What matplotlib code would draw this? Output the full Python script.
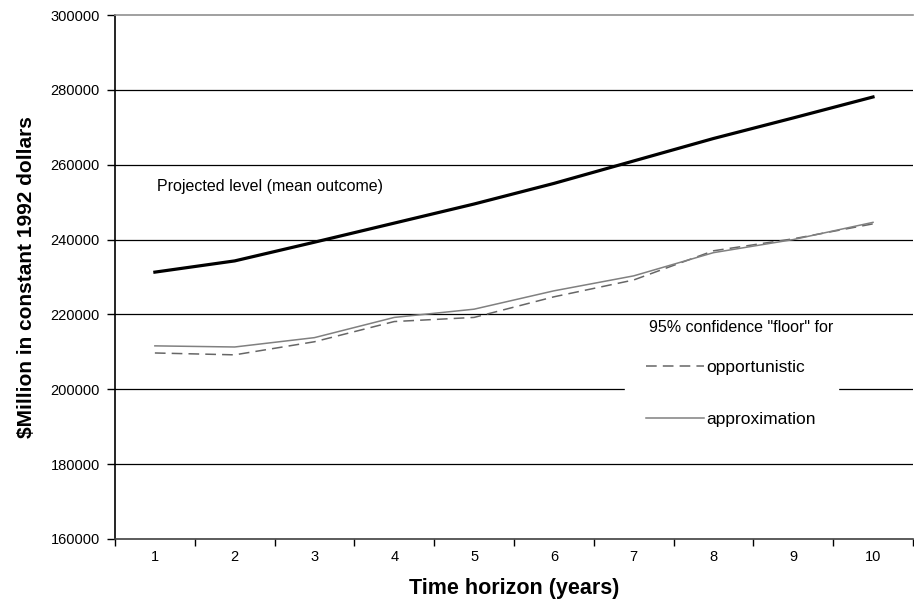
import matplotlib
matplotlib.use("Agg")
import matplotlib.pyplot as plt

plt.rcParams['font.family'] = ['Liberation Sans', 'DejaVu Sans']

#Chart data
years = [1, 2, 3, 4, 5, 6, 7, 8, 9, 10]
meanLevel = [231300, 234300, 239300, 244400, 249500, 255000, 261000, 267000, 272500, 278100]
opportunistic = [209700, 209200, 212700, 218100, 219200, 224700, 229200, 237000, 240200, 244200]
approximation = [211600, 211300, 213800, 219200, 221400, 226300, 230300, 236500, 240000, 244600]
yTicks = [160000, 180000, 200000, 220000, 240000, 260000, 280000, 300000]

fig = plt.figure(figsize=(9.14, 6.05), dpi=100)
ax = fig.add_axes([0.1258, 0.1091, 0.873, 0.8661])

#Gridlines first so the legend box can cover them
for val in yTicks[1:-1]:
    ax.axhline(val, color='black', linewidth=0.9, zorder=1)

ax.plot(years, meanLevel, color='black', linewidth=2.3, zorder=3)
oppLine, = ax.plot(years, opportunistic, color='#666666', linewidth=1.1,
                   dashes=(7, 4), zorder=2)
appLine, = ax.plot(years, approximation, color='#808080', linewidth=1.1, zorder=2)

ax.set_xlim(0.5, 10.5)
ax.set_ylim(160000, 300000)
ax.set_yticks(yTicks)
ax.set_yticklabels([str(v) for v in yTicks], fontsize=10.5)
ax.set_xticks(years)
ax.set_xticklabels([str(y) for y in years], fontsize=10.5)
ax.set_xticks([x + 0.5 for x in range(0, 11)], minor=True)
ax.tick_params(axis='x', which='major', length=0, pad=8)
ax.tick_params(axis='x', which='minor', length=5, width=1, direction='out')
ax.tick_params(axis='y', length=6, width=1, direction='out', pad=5)

ax.spines['right'].set_visible(False)
ax.spines['top'].set_color('#909090')
ax.spines['top'].set_linewidth(1.2)
ax.spines['left'].set_linewidth(1.2)
ax.spines['bottom'].set_color('#404040')
ax.spines['bottom'].set_linewidth(1.2)

ax.text(1.026, 254300, 'Projected level (mean outcome)', fontsize=11.5, va='center', zorder=4)

#Legend without title; the title is placed above it as plain text
leg = ax.legend([oppLine, appLine], ['opportunistic', 'approximation'],
                fontsize=12.5, frameon=True, loc='upper left',
                bbox_to_anchor=(0.628, 0.40), handlelength=3.3,
                handletextpad=0.15, labelspacing=2.15, borderpad=1.25)
leg.get_frame().set_facecolor('white')
leg.get_frame().set_edgecolor('white')
leg.get_frame().set_alpha(1)
leg.get_frame().set_boxstyle('square', pad=0)
leg.set_zorder(5)
ax.text(7.196, 216600, '95% confidence "floor" for', fontsize=11.5, va='center', zorder=6)

ax.set_xlabel('Time horizon (years)', fontsize=15.5, fontweight='bold', labelpad=10)
ax.set_ylabel('$Million in constant 1992 dollars', fontsize=15, fontweight='bold', labelpad=10)

fig.savefig('out.png', dpi=100)
